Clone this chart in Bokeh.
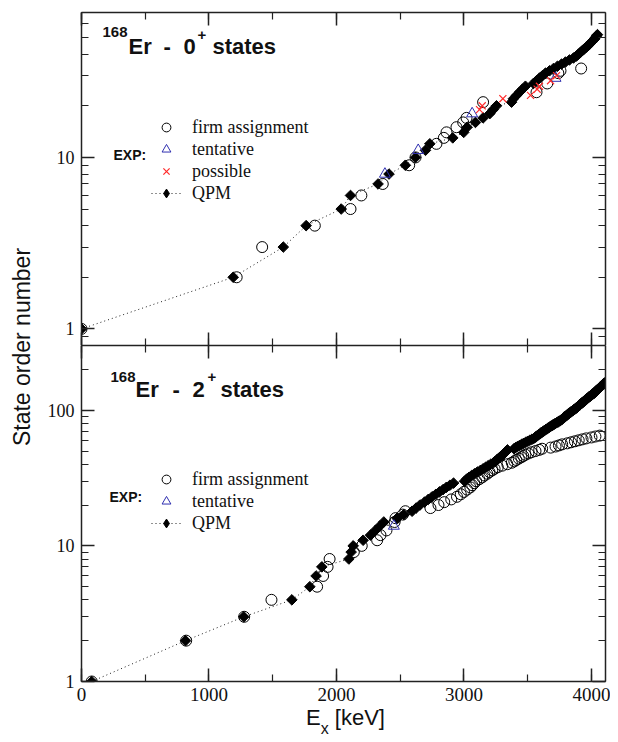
import numpy as np
from bokeh.plotting import figure
from bokeh.models import (Range1d, LinearAxis, LogAxis, SingleIntervalTicker, FixedTicker,
                          PrintfTickFormatter, CustomJSTickFormatter, Legend, LegendItem,
                          Label, Div)
from bokeh.layouts import row, column
from bokeh.embed import file_html
from bokeh.resources import INLINE

# ---------------- data: 168Er 0+ states ----------------
# experimental states, order number n and energy (keV)
er0_firm_n = [1, 2, 3, 4, 5, 6, 7, 9, 10, 12, 13, 14, 15, 16, 17, 21, 24, 27, 31, 32, 33]
er0_firm_e = [0, 1217, 1417, 1830, 2110, 2195, 2363, 2570, 2620, 2784, 2842, 2863, 2941,
              2994, 3020, 3150, 3569, 3653, 3740, 3757, 3919]
er0_tent_n = [8, 11, 18, 29]
er0_tent_e = [2380, 2641, 3064, 3718]
er0_poss_n = [19, 20, 22, 23, 25, 26, 28, 30]
er0_poss_e = [3122, 3143, 3305, 3522, 3574, 3592, 3679, 3726]
# QPM states (order number = position in list)
er0_qpm_e = [0, 1190, 1583, 1762, 2037, 2110, 2326, 2412, 2540, 2620,
             2698, 2732, 2912, 2998, 3025, 3090, 3150, 3202, 3229, 3255,
             3373, 3388, 3412, 3435, 3459, 3482, 3545, 3569, 3592, 3616,
             3639, 3671, 3702, 3733, 3765, 3796, 3827, 3859, 3882, 3898,
             3914, 3929, 3945, 3961, 3976, 3988, 4000, 4012, 4024, 4031,
             4039, 4047]

# ---------------- data: 168Er 2+ states ----------------
er2_exp_e = [80, 821, 1276, 1490, 1848, 1895, 1930, 1946, 2136, 2198,
             2319, 2345, 2392, 2450, 2456, 2463, 2520, 2540, 2737, 2800,
             2845, 2900, 2945, 2975, 3000, 3025, 3050, 3065, 3080, 3095,
             3120, 3143, 3160, 3182, 3200, 3221, 3240, 3265, 3300, 3340,
             3375, 3395, 3410, 3430, 3450, 3465, 3482, 3505, 3530, 3561,
             3590, 3613, 3680, 3718, 3745, 3770, 3810, 3840, 3870, 3900,
             3930, 3960, 4000, 4031, 4065]
er2_tent_n = [14]          # tentative assignments among the experimental list
er2_qpm_e = [80, 816, 1273, 1650, 1791, 1840, 1885, 2097, 2115, 2131,
             2209, 2267, 2305, 2340, 2371, 2476, 2528, 2593, 2625, 2655,
             2690, 2720, 2750, 2780, 2808, 2836, 2862, 2890, 2918, 3005,
             3020, 3040, 3060, 3082, 3105, 3129, 3150, 3170, 3190, 3210,
             3231, 3245, 3258, 3270, 3282, 3293, 3304, 3315, 3325, 3333,
             3341, 3392, 3405, 3420, 3436, 3452, 3468, 3484, 3500, 3516,
             3532, 3548, 3557, 3566, 3576, 3585, 3595, 3604, 3614, 3623,
             3633, 3642, 3652, 3661, 3671, 3680, 3690, 3699, 3709, 3718,
             3728, 3738, 3747, 3757, 3763, 3770, 3776, 3782, 3789, 3795,
             3801, 3807, 3813, 3820, 3826, 3832, 3838, 3845, 3851, 3857,
             3863, 3869, 3876, 3882, 3888, 3893, 3898, 3902, 3907, 3911,
             3916, 3921, 3925, 3930, 3934, 3939, 3944, 3948, 3953, 3957,
             3962, 3967, 3971, 3976, 3980, 3985, 3990, 3994, 3999, 4003,
             4008, 4013, 4018, 4021, 4025, 4028, 4031, 4035, 4038, 4042,
             4045, 4048, 4052, 4055, 4059, 4062, 4065, 4069, 4072, 4076,
             4079, 4082, 4086, 4089, 4093, 4096, 4099, 4103, 4106, 4110]

x_ticks_interval = 1000
X_RANGE = (0, 4110)
TOP_Y = (0.8, 70)
BOT_Y = (1, 300)
y_major = [1, 10, 100]
y_minor = [m * 10 ** k for k in range(-1, 3) for m in range(1, 10)]

AX_COL = "#222222"
TXT_COL = "#111111"
BLUE = "#2f2fb0"
RED = "#ff2a2a"


def style_axis(ax, show_labels, font_size="18px"):
    ax.major_tick_in = 13
    ax.major_tick_out = 0
    ax.minor_tick_in = 7
    ax.minor_tick_out = 0
    ax.axis_line_color = AX_COL
    ax.axis_line_width = 1.5
    ax.major_tick_line_color = AX_COL
    ax.major_tick_line_width = 1.5
    ax.minor_tick_line_color = AX_COL
    ax.minor_tick_line_width = 1.2
    if show_labels:
        ax.major_label_text_font = "Liberation Serif"
        ax.major_label_text_font_size = font_size
        ax.major_label_text_color = TXT_COL
    else:
        ax.major_label_text_font_size = "0px"
        ax.major_label_standoff = 0
        ax.formatter = CustomJSTickFormatter(code="return ''")


def make_fig(height, yr, b_top, b_bottom, show_x_labels):
    p = figure(width=569, height=height, x_range=Range1d(*X_RANGE), y_range=Range1d(*yr),
               y_axis_type="log", output_backend="svg", toolbar_location=None,
               min_border_left=40, min_border_right=5, min_border_top=b_top,
               min_border_bottom=b_bottom)
    p.outline_line_color = None
    p.xgrid.visible = False
    p.ygrid.visible = False
    p.background_fill_color = "white"
    p.border_fill_color = "white"
    # x axes
    xb = p.xaxis[0]
    xb.ticker = SingleIntervalTicker(interval=x_ticks_interval, num_minor_ticks=2)
    style_axis(xb, show_x_labels, "19px")
    if show_x_labels:
        xb.major_label_standoff = 6
    xa = LinearAxis(ticker=SingleIntervalTicker(interval=x_ticks_interval, num_minor_ticks=2))
    style_axis(xa, False)
    p.add_layout(xa, "above")
    # y axes
    yl = p.yaxis[0]
    yl.ticker = FixedTicker(ticks=y_major, minor_ticks=y_minor)
    yl.formatter = PrintfTickFormatter(format="%d")
    style_axis(yl, True, "18px")
    yl.major_label_standoff = 7
    yr_ax = LogAxis(ticker=FixedTicker(ticks=y_major, minor_ticks=y_minor))
    style_axis(yr_ax, False)
    p.add_layout(yr_ax, "right")
    return p


def add_title(p, parts):
    for (txt, x, y, size) in parts:
        p.add_layout(Label(x=x, y=y, x_units="screen", y_units="screen", text=txt,
                           text_font="Liberation Sans", text_font_style="bold",
                           text_font_size=size, text_color=TXT_COL,
                           text_baseline="alphabetic", text_align="left"))


def add_qpm(p, energies):
    n = list(range(1, len(energies) + 1))
    ln = p.line(energies, n, line_color="#222222", line_width=1, line_dash="1 3")
    sq = p.scatter(energies, n, marker="square", size=7.5, angle=np.pi / 4,
                   fill_color="black", line_color="black", line_width=1)
    # zero-size diamond glyph: only used to draw the legend key
    key = p.scatter(energies, n, marker="diamond", size=0, fill_color="black",
                    line_color="black")
    return ln, sq, key


def make_legend(items, loc):
    return Legend(items=items, location=loc, orientation="vertical", padding=0, margin=0,
                  spacing=0, glyph_width=30, glyph_height=22, label_height=20,
                  label_standoff=11, label_text_font="Liberation Serif",
                  label_text_font_size="18px", label_text_color=TXT_COL,
                  background_fill_alpha=0, border_line_alpha=0)


# ---------------- top panel ----------------
p1 = make_fig(345, TOP_Y, 12, 0, False)
q_line1, q_sq1, q_key1 = add_qpm(p1, er0_qpm_e)
c1 = p1.scatter(er0_firm_e, er0_firm_n, marker="circle", size=11, fill_color=None,
                line_color="black", line_width=1)
t1 = p1.scatter(er0_tent_e, er0_tent_n, marker="triangle", size=11, fill_color=None,
                line_color=BLUE, line_width=1)
x1 = p1.scatter(er0_poss_e, er0_poss_n, marker="x", size=10, line_color=RED, line_width=1.2)

p1.add_layout(make_legend([LegendItem(label="firm assignment", renderers=[c1]),
                           LegendItem(label="tentative", renderers=[t1]),
                           LegendItem(label="possible", renderers=[x1]),
                           LegendItem(label="QPM", renderers=[q_line1, q_key1])], (70, 141)))
p1.add_layout(Label(x=32, y=191, x_units="screen", y_units="screen", text="EXP:",
                    text_font="Liberation Sans", text_font_style="bold", text_font_size="14px",
                    text_color=TXT_COL, text_baseline="alphabetic"))
add_title(p1, [("168", 21, 314, "15px"), ("Er", 47, 299, "22px"), ("-", 82, 299, "22px"),
               ("0", 102, 299, "22px"), ("+", 116, 311, "15px"), ("states", 131, 299, "22px")])

# ---------------- bottom panel ----------------
p2 = make_fig(360, BOT_Y, 0, 24, True)
q_line2, q_sq2, q_key2 = add_qpm(p2, er2_qpm_e)
n_exp2 = list(range(1, len(er2_exp_e) + 1))
firm2_n = [k for k in n_exp2 if k not in er2_tent_n]
firm2_e = [er2_exp_e[k - 1] for k in firm2_n]
tent2_e = [er2_exp_e[k - 1] for k in er2_tent_n]
c2 = p2.scatter(firm2_e, firm2_n, marker="circle", size=11, fill_color=None,
                line_color="black", line_width=1)
t2 = p2.scatter(tent2_e, er2_tent_n, marker="triangle", size=11, fill_color=None,
                line_color=BLUE, line_width=1)

p2.add_layout(make_legend([LegendItem(label="firm assignment", renderers=[c2]),
                           LegendItem(label="tentative", renderers=[t2]),
                           LegendItem(label="QPM", renderers=[q_line2, q_key2])], (70, 147)))
p2.add_layout(Label(x=28, y=185, x_units="screen", y_units="screen", text="EXP:",
                    text_font="Liberation Sans", text_font_style="bold", text_font_size="14px",
                    text_color=TXT_COL, text_baseline="alphabetic"))
add_title(p2, [("168", 29, 305, "15px"), ("Er", 54, 292, "22px"), ("-", 91, 292, "22px"),
               ("2", 111, 292, "22px"), ("+", 126, 305, "15px"), ("states", 139, 292, "22px")])

# x axis label: E_x [keV]
xlab = Div(text=("<div style=\"position:relative;width:569px;height:37px;\">"
                 "<span style=\"position:absolute;left:265px;top:0px;white-space:nowrap;"
                 "font-family:'Liberation Sans';font-size:22px;line-height:25px;color:#111;\">"
                 "E<span style=\"font-size:16px;position:relative;top:9px;\">x</span>"
                 "&nbsp;[keV]</span></div>"),
           width=569, height=37, margin=(0, 0, 0, 0))

# y axis label spanning both panels
ylab = Div(text=("<div style=\"position:relative;width:41px;height:742px;\">"
                 "<div style=\"position:absolute;left:22px;top:347px;"
                 "transform:translate(-50%,-50%) rotate(-90deg);white-space:nowrap;"
                 "font-family:'Liberation Sans';font-size:23px;color:#111;\">"
                 "State order number</div></div>"),
           width=41, height=742, margin=(0, 0, 0, 0))

layout = row(ylab, column(p1, p2, xlab, spacing=0), spacing=0)

open("out.html", "w").write(file_html(layout, INLINE))
